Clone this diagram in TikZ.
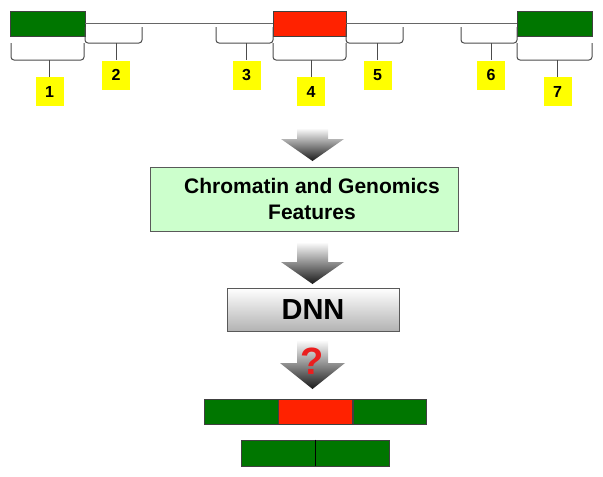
\documentclass[tikz,border=0pt]{standalone}
\usepackage{fontspec}
\setmainfont{Liberation Sans}
\definecolor{exgreen}{RGB}{0,118,0}
\definecolor{exred}{RGB}{255,34,0}
\definecolor{featgreen}{RGB}{204,255,204}
\definecolor{lblyellow}{RGB}{255,255,0}
\definecolor{qred}{RGB}{235,30,30}
\begin{document}
\begin{tikzpicture}[x=1pt,y=-1pt,
  exon/.style={draw=black!75,line width=0.8pt,minimum height=25pt,inner sep=0pt},
  gexon/.style={exon,fill=exgreen},
  rexon/.style={exon,fill=exred},
  lbl/.style={fill=lblyellow,minimum width=28pt,minimum height=29pt,inner sep=0pt,
     font=\fontsize{16}{16}\selectfont\bfseries},
  brc/.style={draw=black!70,line width=1pt,rounded corners=3pt},
  intron/.style={draw=black!60,line width=1.2pt},
  bigarrow/.style={top color=white,bottom color=black!90,draw=none}
]
\useasboundingbox (0,0) rectangle (603,477);

% gene model
\node[gexon,minimum width=75pt] (e1) at (47.5,23.5) {};
\node[rexon,minimum width=73pt] (e4) at (309.5,23.5) {};
\node[gexon,minimum width=75pt] (e7) at (554.5,23.5) {};
\draw[intron] (e1.east) -- (e4.west);
\draw[intron] (e4.east) -- (e7.west);

% labels
\node[lbl] (l1) at (49.5,91.5) {1};
\node[lbl] (l2) at (116,75) {2};
\node[lbl] (l3) at (246.5,75) {3};
\node[lbl] (l4) at (311,91.5) {4};
\node[lbl] (l5) at (377.5,75) {5};
\node[lbl] (l6) at (491,75) {6};
\node[lbl] (l7) at (557.5,91.5) {7};

% braces
\draw[brc] (11,43) -- (11,60) -- (84,60) -- (84,43);
\draw[brc] (85,27) -- (85,43) -- (142,43) -- (142,27);
\draw[brc] (216,27) -- (216,43) -- (273,43) -- (273,27);
\draw[brc] (273,43) -- (273,60) -- (346,60) -- (346,43);
\draw[brc] (346,27) -- (346,43) -- (403,43) -- (403,27);
\draw[brc] (461,27) -- (461,43) -- (517,43) -- (517,27);
\draw[brc] (517,43) -- (517,60) -- (592,60) -- (592,43);
\coordinate (b1) at (49.5,60);
\coordinate (b2) at (116,43);
\coordinate (b3) at (246.5,43);
\coordinate (b4) at (311,60);
\coordinate (b5) at (377.5,43);
\coordinate (b6) at (491,43);
\coordinate (b7) at (557.5,60);
\foreach \i in {1,...,7} \draw[brc] (b\i) -- (l\i.north);

% arrow 1
\shade[bigarrow] (297,128) -- (328,128) -- (328,139) -- (344,139) -- (312.5,161)
  -- (281,139) -- (297,139) -- cycle;

% features box
\node[draw=black!65,line width=1pt,fill=featgreen,minimum width=308pt,minimum height=64pt]
  (feat) at (304,199) {};
\node[align=center,font=\fontsize{21}{26}\selectfont\bfseries] (feattxt)
  at ([xshift=8pt]feat.center) {Chromatin and Genomics\\Features};

% arrow 2
\shade[bigarrow] (297,242) -- (328,242) -- (328,262) -- (344,262) -- (312.5,284)
  -- (281,262) -- (297,262) -- cycle;

% DNN box
\node[draw=black!65,line width=1pt,top color=white,bottom color=black!30,
  minimum width=172pt,minimum height=43pt,font=\fontsize{29}{29}\selectfont\bfseries]
  (dnn) at (313,309.5) {DNN};

% arrow 3
\shade[bigarrow] (297,340) -- (328,340) -- (328,363) -- (345,363) -- (312.5,389)
  -- (280,363) -- (297,363) -- cycle;
\node[text=qred,font=\fontsize{38}{38}\selectfont\bfseries] (q) at (312.5,361) {?};

% outcomes
\node[gexon,minimum width=74pt] (o1) at (241,411.5) {};
\node[rexon,minimum width=74pt,anchor=west] (o2) at (o1.east) {};
\node[gexon,minimum width=73pt,anchor=west] (o3) at (o2.east) {};
\node[gexon,minimum width=74pt,minimum height=26pt] (s1) at (278,453) {};
\node[gexon,minimum width=74pt,minimum height=26pt,anchor=west] (s2) at (s1.east) {};
\draw[black,line width=1pt] (s1.north east) -- (s1.south east);
\end{tikzpicture}
\end{document}
